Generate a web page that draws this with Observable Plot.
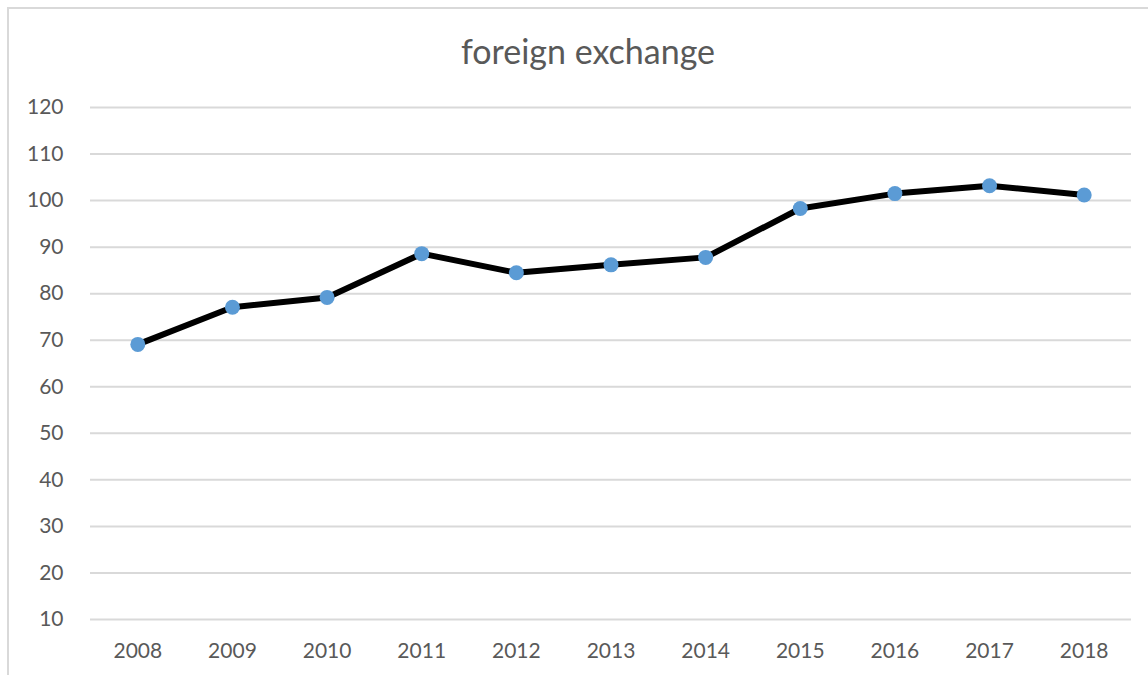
<!DOCTYPE html>
<html>
<head>
<meta charset="utf-8">
<script src="https://cdn.jsdelivr.net/npm/d3@7"></script>
<script src="https://cdn.jsdelivr.net/npm/@observablehq/plot@0.6"></script>
<style>
  html, body { margin: 0; padding: 0; background: #fff; overflow: hidden; }
  #wrap { position: relative; width: 1148px; height: 675px; overflow: hidden; font-family: Lato, "Open Sans", sans-serif; }
  #frame { position: absolute; left: 7px; top: 7px; width: 1300px; height: 800px; border: 2px solid #d9d9d9; box-sizing: border-box; }
  #title { position: relative; margin: 0; padding-top: 34px; height: 34px; line-height: 34px; font-size: 34px; color: #595959; text-align: center; font-weight: normal; padding-left: 28px; }
  #chart { position: relative; }
</style>
</head>
<body>
<div id="wrap">
  <div id="frame"></div>
  <div id="title">foreign exchange</div>
  <div id="chart"></div>
</div>
<script>
const years = ["2008","2009","2010","2011","2012","2013","2014","2015","2016","2017","2018"];
const values = [69.1, 77.1, 79.2, 88.6, 84.5, 86.2, 87.8, 98.3, 101.5, 103.2, 101.2];
const yTicks = [10, 20, 30, 40, 50, 60, 70, 80, 90, 100, 110, 120];

const data = years.map((year, i) => ({year, value: values[i]}));

const chart = Plot.plot({
  width: 1148,
  height: 607,
  marginLeft: 90,
  marginRight: 17,
  marginTop: 39,
  marginBottom: 56,
  style: {fontFamily: "Lato, 'Open Sans', sans-serif", fontSize: "21px", color: "#595959", background: "transparent"},
  x: {type: "point", domain: years, padding: 0.5, round: false, label: null, tickSize: 0, tickPadding: 24},
  y: {domain: [10, 120], ticks: yTicks, label: null, tickSize: 0, tickPadding: 27},
  marks: [
    Plot.ruleY(yTicks, {stroke: "#d9d9d9", strokeWidth: 2}),
    Plot.line(data, {x: "year", y: "value", stroke: "#000", strokeWidth: 6, strokeLinejoin: "round", strokeLinecap: "round"}),
    Plot.dot(data, {x: "year", y: "value", r: 7.5, fill: "#5b9bd5", stroke: "none"})
  ]
});
document.getElementById("chart").appendChild(chart);
</script>
</body>
</html>
